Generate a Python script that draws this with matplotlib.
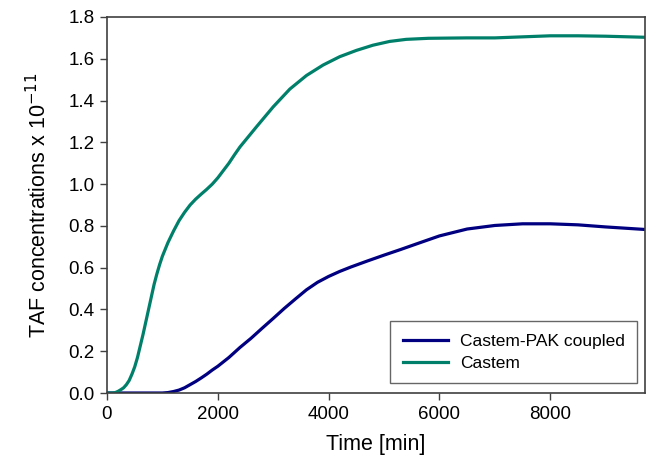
import matplotlib
matplotlib.use("Agg")
import matplotlib.pyplot as plt

plt.rcParams['font.family'] = ['Liberation Sans', 'DejaVu Sans']

# Castem (green)
t_castem = [0, 100, 150, 200, 250, 300, 350, 400, 450, 500, 550, 600, 650, 700, 750, 800,
            850, 900, 950, 1000, 1100, 1200, 1300, 1400, 1500, 1600, 1700, 1800, 1900, 2000,
            2100, 2200, 2300, 2400, 2700, 3000, 3300, 3600, 3900, 4200, 4500, 4800, 5100,
            5400, 5800, 6500, 7000, 7500, 8000, 8500, 9000, 9700]
y_castem = [0, 0, 0.002, 0.008, 0.016, 0.025, 0.04, 0.06, 0.09, 0.125, 0.17, 0.225, 0.28,
            0.34, 0.40, 0.46, 0.52, 0.57, 0.615, 0.655, 0.72, 0.775, 0.825, 0.865, 0.90,
            0.928, 0.952, 0.975, 1.0, 1.03, 1.065, 1.10, 1.14, 1.178, 1.275, 1.37, 1.455,
            1.52, 1.57, 1.61, 1.64, 1.665, 1.683, 1.693, 1.698, 1.70, 1.70, 1.705, 1.71,
            1.71, 1.708, 1.703]

# Castem-PAK coupled (blue)
t_coupled = [0, 1000, 1100, 1200, 1300, 1400, 1500, 1600, 1700, 1800, 1900, 2000, 2200,
             2400, 2600, 2800, 3000, 3200, 3400, 3600, 3800, 4000, 4200, 4400, 4700, 5000,
             5300, 5600, 6000, 6500, 7000, 7500, 8000, 8500, 9000, 9700]
y_coupled = [0, 0, 0.002, 0.007, 0.014, 0.025, 0.04, 0.055, 0.072, 0.09, 0.11, 0.128, 0.17,
             0.218, 0.262, 0.31, 0.357, 0.405, 0.45, 0.494, 0.53, 0.558, 0.582, 0.603,
             0.632, 0.66, 0.687, 0.715, 0.752, 0.785, 0.802, 0.81, 0.81, 0.805, 0.795, 0.783]

x_ticks = [0, 2000, 4000, 6000, 8000]
y_ticks = [0.0, 0.2, 0.4, 0.6, 0.8, 1.0, 1.2, 1.4, 1.6, 1.8]

fig = plt.figure(figsize=(6.49, 4.65), dpi=100)
ax = fig.add_axes([107/649, 72/465, 538/649, 376/465])

ax.plot(t_coupled, y_coupled, color='#000080', lw=2.3, label='Castem-PAK coupled',
        solid_joinstyle='round')
ax.plot(t_castem, y_castem, color='#00806A', lw=2.3, label='Castem',
        solid_joinstyle='round')

ax.set_xlim(0, 9710)
ax.set_ylim(0, 1.8)
ax.set_xticks(x_ticks)
ax.set_yticks(y_ticks)
ax.set_yticklabels([f"{v:.1f}" for v in y_ticks])
ax.tick_params(direction='out', length=5, width=1, labelsize=13.5, color='#404040', pad=4)
for s in ax.spines.values():
    s.set_color('#404040')
    s.set_linewidth(1.2)

ax.set_xlabel('Time [min]', fontsize=15.5, labelpad=8)
ax.set_ylabel('TAF concentrations x 10$^{-11}$', fontsize=15.5, labelpad=12)

leg = ax.legend(loc='lower right', fontsize=12.5, frameon=True, fancybox=False,
                borderpad=0.7, handlelength=2.6, handletextpad=0.7, labelspacing=0.4,
                borderaxespad=0, bbox_to_anchor=(0.985, 0.027))
leg.get_frame().set_edgecolor('#404040')
leg.get_frame().set_linewidth(1.0)

fig.savefig('out.png', dpi=100)
